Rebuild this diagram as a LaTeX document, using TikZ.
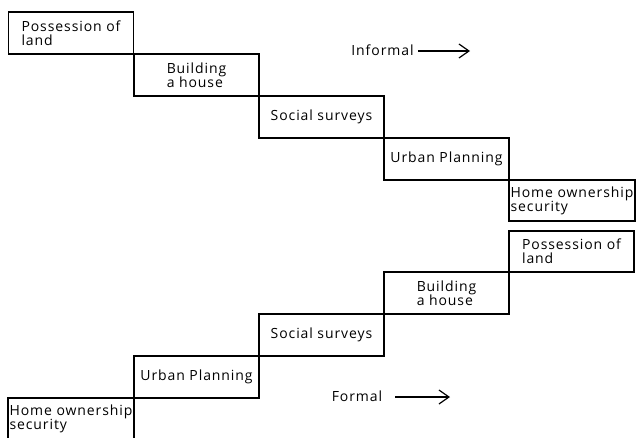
\documentclass[tikz,border=0pt]{standalone}
\usepackage{fontspec}
\setmainfont{Open Sans}[LetterSpace=6.5]
\usetikzlibrary{arrows.meta}
\tikzset{
	stepbox/.style={rectangle,draw,line width=1.2pt,minimum width=125pt,minimum height=42pt,inner sep=0pt,align=left,font=\fontsize{14}{14}\selectfont},
	tag/.style={inner sep=1pt,font=\fontsize{14}{14}\selectfont},
	way/.style={-{Straight Barb[length=10pt,width=14pt]},line width=1.2pt}
}
\begin{document}
\begin{tikzpicture}[x=1pt,y=-1pt]
				\useasboundingbox (0,0) rectangle (636,437);
				% informal order
				\node[stepbox] (land1) at (71,33) {Possession of\\land};
				\node[stepbox] (house1) at (196.5,75) {Building\\a house};
				\node[stepbox] (survey1) at (321.5,117) {Social surveys};
				\node[stepbox] (plan1) at (446.5,159) {Urban Planning};
				\node[stepbox,minimum width=126pt,minimum height=41pt] (secure1) at (572,200.5) {Home ownership\\security};
				\node[tag] (informal) at (382.5,50) {Informal};
				\coordinate (infend) at (470,51);
				\path[way,draw,shorten <=3pt] (informal.east|-infend) -- (infend);
				% formal order
				\node[stepbox,minimum height=41pt] (land2) at (571.5,251.5) {Possession of\\land};
				\node[stepbox] (house2) at (446.5,293) {Building\\a house};
				\node[stepbox] (survey2) at (321.5,335) {Social surveys};
				\node[stepbox] (plan2) at (196.5,377) {Urban Planning};
				\node[stepbox,minimum width=126pt] (secure2) at (71,419) {Home ownership\\security};
				\node[tag] (formal) at (357,396) {Formal};
				\coordinate (forend) at (450,397);
				\path[way,draw,shorten <=12pt] (formal.east|-forend) -- (forend);
			\end{tikzpicture}
\end{document}
